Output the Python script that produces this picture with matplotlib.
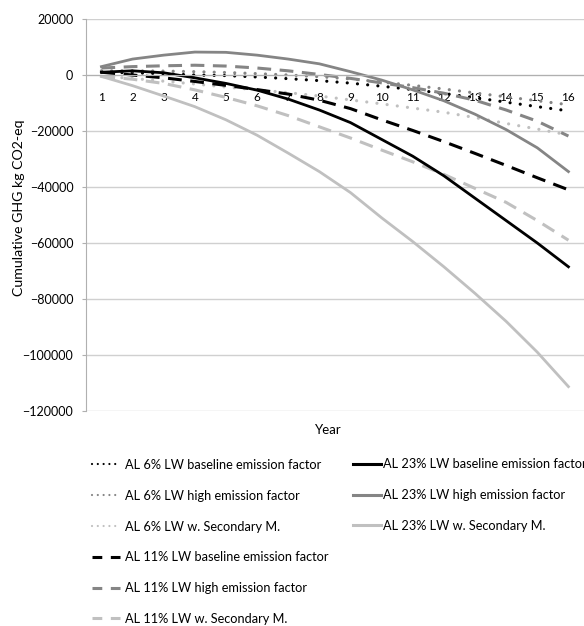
import numpy as np
import matplotlib
matplotlib.use("Agg")
import matplotlib.pyplot as plt
from matplotlib.lines import Line2D

plt.rcParams['font.family'] = ['Lato', 'DejaVu Sans']

years = list(range(1, 17))

al6_base = [1000, 800, 500, 0, -200, -700, -1300, -2000, -2900, -4000, -5200, -6600, -8100, -9700, -11300, -12800]
al6_high = [1500, 1500, 1400, 1200, 900, 500, 0, -600, -1400, -2500, -3700, -5000, -6400, -7800, -9200, -10600]
al6_sec = [-500, -1200, -2200, -3200, -4300, -5300, -6300, -7500, -8900, -10300, -11800, -13300, -15200, -17300, -19300, -21400]
al11_base = [1000, 0, -1000, -2300, -3700, -5200, -6800, -9000, -12000, -16000, -19800, -23800, -28000, -32300, -36700, -41000]
al11_high = [2500, 3000, 3300, 3500, 3200, 2500, 1500, 200, -1200, -2800, -4500, -6500, -9000, -12500, -16500, -21800]
al11_sec = [-500, -1500, -3000, -5300, -8000, -11000, -14500, -18500, -22500, -26800, -31000, -35500, -40500, -45500, -52000, -59000]
al23_base = [1000, 1500, 800, -1000, -3000, -5400, -8600, -12500, -17000, -23000, -29000, -36000, -44000, -52000, -60000, -68500]
al23_high = [3000, 5700, 7100, 8200, 8100, 7100, 5700, 4000, 1200, -1800, -5300, -9200, -14000, -19500, -26000, -34500]
al23_sec = [-500, -3800, -7500, -11300, -16000, -21500, -27900, -34500, -42000, -51000, -59500, -68500, -78000, -88000, -99000, -111300]

labels6 = ["AL 6% LW baseline emission factor", "AL 6% LW high emission factor", "AL 6% LW w. Secondary M."]
labels11 = ["AL 11% LW baseline emission factor", "AL 11% LW high emission factor", "AL 11% LW w. Secondary M."]
labels23 = ["AL 23% LW baseline emission factor", "AL 23% LW high emission factor", "AL 23% LW w. Secondary M."]

black = "#000000"
mid = "#858585"
light = "#c0c0c0"

fig = plt.figure(figsize=(5.84, 6.26), dpi=100)
ax = fig.add_axes([0.147, 0.3435, 0.853, 0.6261])

dot = dict(lw=2.3, dashes=(0.01, 3.2), dash_capstyle="round")
dash = dict(lw=2.2, dashes=(4.5, 2.8))
solid = dict(lw=2.0)
# legend keys are drawn finer, like in the original
dot_key = dict(lw=1.6, dashes=(0.01, 2.6), dash_capstyle="round")
dash_key = dict(lw=2.2, dashes=(3.2, 2.8))
solid_key = dict(lw=2.2)

series = [
    (al6_base, black, dot, dot_key, labels6[0]),
    (al6_high, mid, dot, dot_key, labels6[1]),
    (al6_sec, light, dot, dot_key, labels6[2]),
    (al11_base, black, dash, dash_key, labels11[0]),
    (al11_high, mid, dash, dash_key, labels11[1]),
    (al11_sec, light, dash, dash_key, labels11[2]),
    (al23_base, black, solid, solid_key, labels23[0]),
    (al23_high, mid, solid, solid_key, labels23[1]),
    (al23_sec, light, solid, solid_key, labels23[2]),
]

handles = []
for vals, col, sty, key, lab in series:
    ax.plot(years, vals, color=col, label=lab, **sty)
    handles.append(Line2D([], [], color=col, label=lab, **key))

ax.set_xlim(0.5, 16.5)
ax.set_ylim(-120000, 20000)
ax.set_yticks(np.arange(-120000, 20001, 20000))
ax.set_xticks(years)
ax.grid(axis="y", color="#d0d0d0", lw=1)
ax.set_axisbelow(True)
for s in ["top", "right"]:
    ax.spines[s].set_visible(False)
ax.spines["left"].set_color("#b0b0b0")
ax.spines["bottom"].set_position(("data", 0))
ax.spines["bottom"].set_color("#b0b0b0")
ax.tick_params(axis="y", length=3, color="#b0b0b0", labelsize=9, pad=6)
ax.tick_params(axis="x", length=0, labelsize=8.5, pad=12)

ax.set_ylabel("Cumulative GHG kg CO2-eq", fontsize=10.2)
ax.yaxis.set_label_coords(-0.122, 0.518)
fig.text(0.563, 0.313, "Year", fontsize=9.5, ha="center", va="center")

leg1 = fig.legend(handles=handles[:6], loc="upper left", bbox_to_anchor=(0.148, 0.275),
                  frameon=False, fontsize=9.2, handlelength=2.2, handletextpad=0.4,
                  labelspacing=1.47, borderaxespad=0)
leg2 = fig.legend(handles=handles[6:], loc="upper left", bbox_to_anchor=(0.596, 0.276),
                  frameon=False, fontsize=9.2, handlelength=2.2, handletextpad=0.1,
                  labelspacing=1.47, borderaxespad=0)

fig.savefig("out.png", dpi=100)
